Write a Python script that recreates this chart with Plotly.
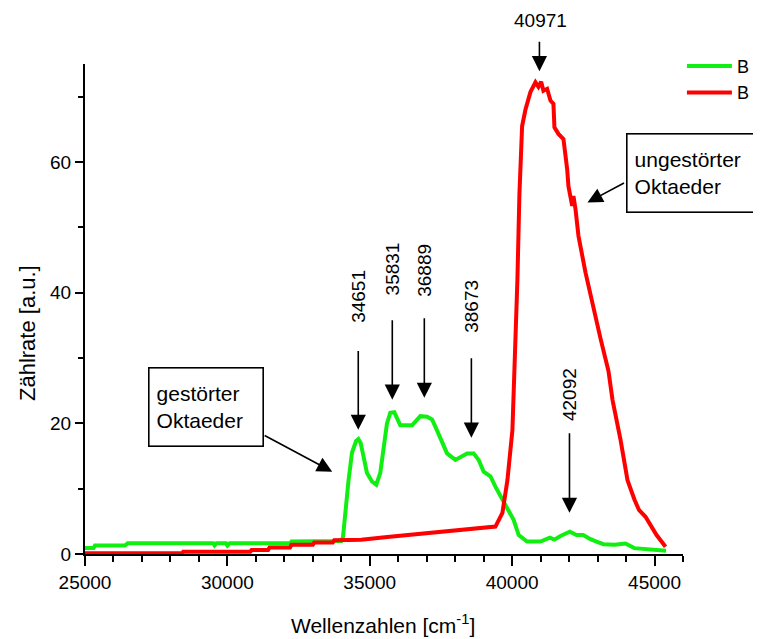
import plotly.graph_objects as go

# ---- data ----
green_x = [25000, 25300, 25350, 26400, 26500, 29500, 29550, 29620, 29950, 30000, 30080,
           32200, 32250, 33730, 34000, 34060, 34139, 34255, 34375, 34520, 34600, 34680,
           34782, 34902, 35077, 35229, 35369, 35485, 35605, 35721, 35861, 35977, 36072,
           36484, 36659, 36775, 37011, 37187, 37303, 37478, 37714, 38006, 38241, 38417,
           38649, 38825, 39000, 39236, 39412, 39647, 39879, 40055, 40230, 40525, 40993,
           41324, 41485, 41714, 42027, 42259, 42498, 42734, 42962, 43208, 43594, 43981,
           44287, 44543, 44920, 45405]
green_y = [0.9, 0.9, 1.3, 1.3, 1.65, 1.65, 1.3, 1.65, 1.65, 1.3, 1.65,
           1.65, 1.9, 1.9, 2.0, 2.6, 6.3, 11.3, 15.5, 17.3, 17.6, 17.0,
           14.9, 12.4, 11.1, 10.6, 12.4, 16.5, 20.0, 21.6, 21.7, 20.6, 19.7,
           19.7, 20.6, 21.1, 21.0, 20.6, 19.5, 17.7, 15.4, 14.4, 15.0, 15.4,
           15.4, 14.4, 12.6, 11.9, 10.3, 8.5, 6.7, 5.2, 2.9, 1.9, 1.9,
           2.5, 2.2, 2.8, 3.4, 2.9, 2.9, 2.3, 1.9, 1.5, 1.4, 1.6,
           0.9, 0.8, 0.6, 0.5]

red_x = [25000, 28420, 28450, 30800, 30850, 31430, 31480, 32200, 32250, 33000, 33050,
         33700, 33750, 34700, 35615, 37127, 38779, 39412, 39658, 39834, 40010, 40115,
         40185, 40255, 40350, 40466, 40642, 40818, 40923, 41018, 41099, 41229, 41345,
         41450, 41485, 41626, 41802, 41932, 41977, 42108, 42153, 42224, 42329, 42575,
         42680, 42810, 43102, 43383, 43524, 43805, 44051, 44297, 44459, 44684, 45071,
         45387]
red_y = [0.1, 0.1, 0.35, 0.35, 0.6, 0.6, 1.0, 1.0, 1.4, 1.4, 1.75,
         1.75, 2.1, 2.2, 2.6, 3.2, 3.8, 4.2, 6.3, 11.3, 19.0, 32.0,
         42.0, 55.0, 65.5, 68.0, 70.7, 72.2, 71.5, 72.3, 70.9, 71.2, 69.4,
         68.9, 65.3, 64.3, 63.5, 58.9, 56.3, 53.3, 54.8, 52.8, 48.7, 43.1,
         41.0, 38.5, 33.0, 28.0, 23.6, 17.5, 11.3, 8.3, 6.7, 5.7, 2.9,
         1.1]

series_names = ["B", "B"]

# peak marks: label text, arrow x, arrow tip y, arrow tail y, label y
peak_labels = ["34651", "35831", "36889", "38673", "42092"]
peak_x = [34596, 35791, 36916, 38568, 42013]
peak_tip_y = [19.0, 23.6, 23.9, 17.8, 6.3]
peak_tail_y = [31.3, 36.0, 36.3, 30.2, 18.7]
peak_label_y = [39.4, 43.6, 43.4, 37.9, 24.4]

top_label = "40971"
top_x = 40958
top_tip_y = 73.9

FONT = "Liberation Sans, Arial, sans-serif"

fig = go.Figure()
fig.add_trace(go.Scatter(x=green_x, y=green_y, mode="lines", name=series_names[0],
                         line=dict(color="#11ee11", width=4)))
fig.add_trace(go.Scatter(x=red_x, y=red_y, mode="lines", name=series_names[1],
                         line=dict(color="#ff0000", width=4)))

ann = []
arrow_style = dict(showarrow=True, arrowhead=2, arrowsize=1.9, arrowwidth=1.6,
                   arrowcolor="black", axref="x", ayref="y", xref="x", yref="y")
for lab, px_, tip, tail, ly in zip(peak_labels, peak_x, peak_tip_y, peak_tail_y, peak_label_y):
    ann.append(dict(x=px_, y=tip, ax=px_, ay=tail, text="", **arrow_style))
    ann.append(dict(x=px_, y=ly, text=lab, textangle=-90, showarrow=False,
                    xref="x", yref="y", xanchor="center", yanchor="middle",
                    font=dict(size=19, color="black", family=FONT)))
# top peak: arrow tail above the plot area (pixel offset), label in domain coords
ann.append(dict(x=top_x, y=top_tip_y, ax=0, ay=-31, text="", showarrow=True,
                arrowhead=2, arrowsize=1.9, arrowwidth=1.6, arrowcolor="black",
                xref="x", yref="y"))
ann.append(dict(x=0.761, y=1.088, xref="x domain", yref="y domain", text=top_label,
                showarrow=False, xanchor="center", yanchor="middle",
                font=dict(size=19, color="black", family=FONT)))

# text boxes
ann.append(dict(x=29236, y=22.5, xref="x", yref="y", text="gestörter<br>Oktaeder",
                showarrow=False, align="left", bordercolor="black", borderwidth=1.6,
                borderpad=7, bgcolor="white", width=99, height=63,
                xanchor="center", yanchor="middle",
                font=dict(size=21, color="black", family=FONT)))
ann.append(dict(x=33682, y=12.6, ax=31257, ay=18.25, text="", **arrow_style))
ann.append(dict(x=1.016, y=0.778, xref="x domain", yref="y domain",
                text="ungestörter<br>Oktaeder",
                showarrow=False, align="left", bordercolor="black", borderwidth=1.6,
                borderpad=7, bgcolor="white", width=116, height=63,
                xanchor="center", yanchor="middle",
                font=dict(size=21, color="black", family=FONT)))
ann.append(dict(x=42645, y=53.8, ax=43981, ay=56.9, text="", **arrow_style))

# axis titles
ann.append(dict(x=-0.097, y=0.451, xref="x domain", yref="y domain", text="Zählrate [a.u.]",
                textangle=-90, showarrow=False, xanchor="center", yanchor="middle",
                font=dict(size=22, color="black", family=FONT)))
ann.append(dict(x=0.498, y=-0.143, xref="x domain", yref="y domain",
                text="Wellenzahlen [cm<sup>-1</sup>]", showarrow=False,
                xanchor="center", yanchor="middle",
                font=dict(size=21, color="black", family=FONT)))

fig.update_layout(
    width=753, height=631,
    margin=dict(l=77, r=0, t=56, b=85),
    paper_bgcolor="white", plot_bgcolor="white",
    font=dict(family=FONT, size=19, color="black"),
    annotations=ann,
    legend=dict(x=0.991, y=1.033, xanchor="right", yanchor="top",
                font=dict(size=18, family=FONT), itemwidth=45,
                bgcolor="rgba(0,0,0,0)", tracegroupgap=0),
    xaxis=dict(domain=[0, 0.88462], range=[25000, 46000], showgrid=False, zeroline=False,
               showline=True, linecolor="black", linewidth=2,
               ticks="outside", ticklen=10, tickwidth=2, tickcolor="black",
               tick0=25000, dtick=5000, tickformat="d", ticklabelstandoff=0,
               minor=dict(dtick=1000, ticks="outside", ticklen=6, tickwidth=2,
                          tickcolor="black", showgrid=False)),
    yaxis=dict(range=[0, 75], showgrid=False, zeroline=False,
               showline=True, linecolor="black", linewidth=2,
               ticks="outside", ticklen=8, tickwidth=2, tickcolor="black",
               tick0=0, dtick=20,
               minor=dict(dtick=10, ticks="outside", ticklen=5, tickwidth=2,
                          tickcolor="black", showgrid=False)),
)

fig.write_html("out.html")
